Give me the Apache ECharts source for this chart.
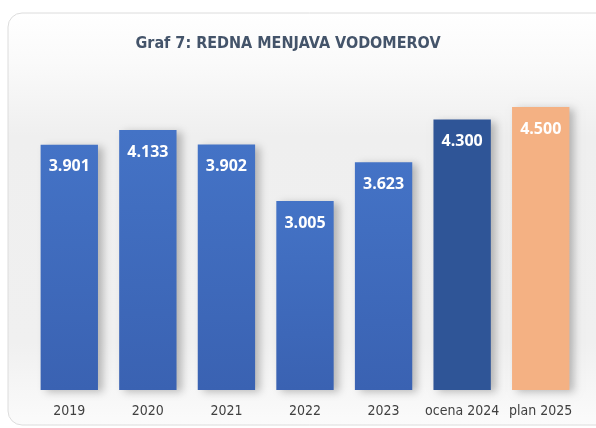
<!DOCTYPE html>
<html>
<head>
<meta charset="utf-8">
<script src="https://cdn.jsdelivr.net/npm/echarts@6/dist/echarts.min.js"></script>
<style>
  html, body { margin: 0; padding: 0; background: #fff; }
  #chart { width: 596px; height: 428px; }
</style>
</head>
<body>
<div id="chart"></div>
<script>
// podatki
var categories = ["2019", "2020", "2021", "2022", "2023", "ocena 2024", "plan 2025"];
var values = [3901, 4133, 3902, 3005, 3623, 4300, 4500];
var barColors = ["#4472c4", "#4472c4", "#4472c4", "#4472c4", "#4472c4", "#2f5597", "#f4b183"];

var myChart = echarts.init(document.getElementById("chart"));

function barColor(c) {
  if (c === "#4472c4") {
    return new echarts.graphic.LinearGradient(0, 0, 0, 1, [
      { offset: 0, color: "#4473c6" },
      { offset: 1, color: "#3a62b2" }
    ]);
  }
  return c;
}

var options = {
  animation: false,
  graphic: [
    {
      type: "rect",
      z: -10,
      shape: { x: 8, y: 13, width: 620, height: 412, r: 14 },
      style: {
        fill: new echarts.graphic.LinearGradient(0, 0, 0, 1, [
          { offset: 0, color: "#ffffff" },
          { offset: 0.12, color: "#fafafa" },
          { offset: 0.3, color: "#efefef" },
          { offset: 0.8, color: "#f0f0f0" },
          { offset: 1, color: "#fbfbfb" }
        ]),
        stroke: "#dcdcdc",
        lineWidth: 1
      }
    }
  ],
  title: {
    text: "Graf 7: REDNA MENJAVA VODOMEROV",
    left: 283,
    textAlign: "center",
    top: 31,
    textStyle: {
      fontFamily: "DejaVu Sans Condensed",
      fontWeight: "bold",
      fontSize: 16,
      color: "#44546a"
    }
  },
  grid: { left: 30, right: 16, top: 107, bottom: 38 },
  xAxis: {
    type: "category",
    data: categories,
    axisLine: { show: false },
    axisTick: { show: false },
    axisLabel: {
      interval: 0,
      margin: 14,
      fontFamily: "DejaVu Sans Condensed",
      fontSize: 14,
      color: "#404040"
    }
  },
  yAxis: {
    type: "value",
    min: 0,
    max: 4500,
    show: false,
    splitLine: { show: false }
  },
  series: [
    {
      type: "bar",
      barCategoryGap: "27%",
      data: values.map(function (v, i) {
        return {
          value: v,
          itemStyle: {
            color: barColor(barColors[i]),
            shadowColor: "rgba(0,0,0,0.25)",
            shadowBlur: 8,
            shadowOffsetX: 5,
            shadowOffsetY: 2
          }
        };
      }),
      label: {
        show: true,
        position: "insideTop",
        distance: 14,
        color: "#fff",
        fontFamily: "Open Sans",
        fontWeight: "bold",
        fontSize: 16,
        formatter: function (p) {
          return (p.value / 1000).toFixed(3);
        }
      }
    }
  ]
};

myChart.setOption(options);
</script>
</body>
</html>
